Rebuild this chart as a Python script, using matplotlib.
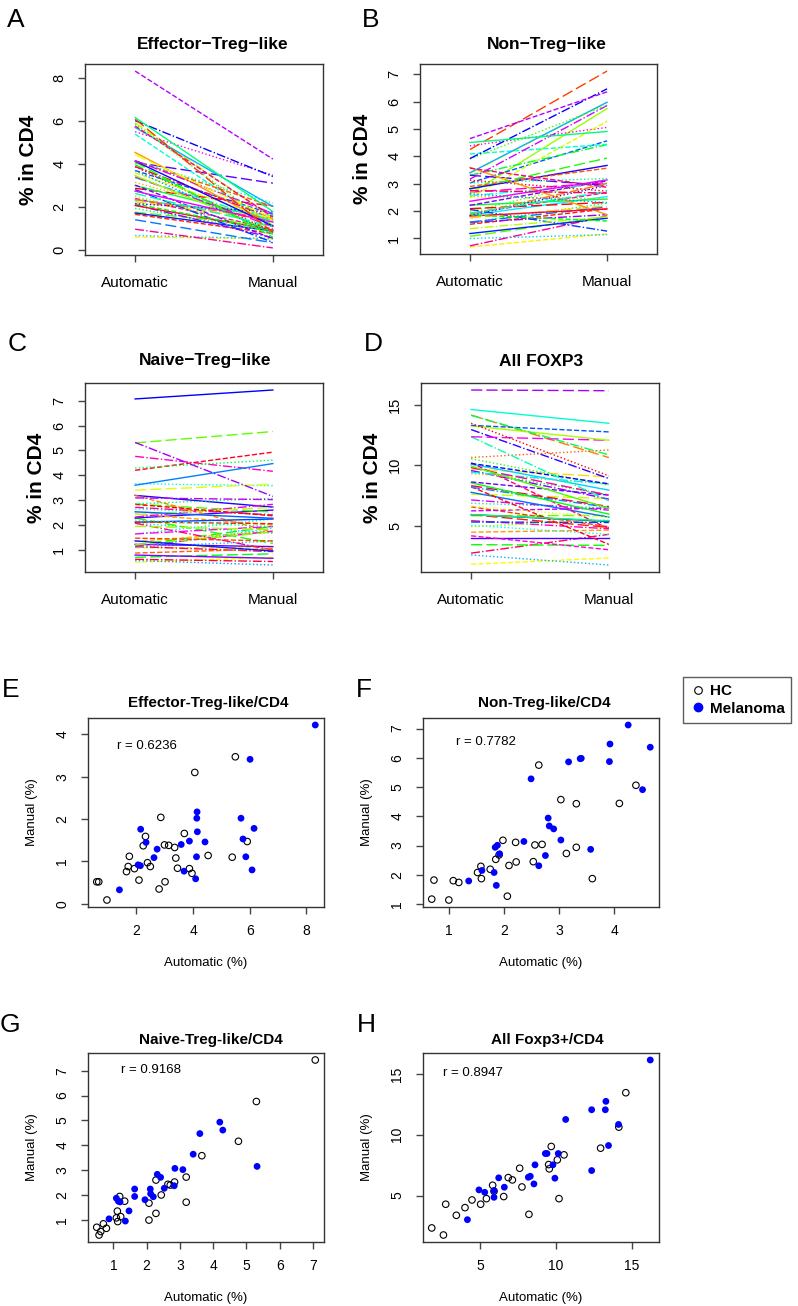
import matplotlib
matplotlib.use("Agg")
import matplotlib.pyplot as plt
import numpy as np
from matplotlib.colors import hsv_to_rgb
from matplotlib.lines import Line2D

plt.rcParams['font.family'] = ['Liberation Sans', 'DejaVu Sans']

# ---- data: % in CD4, automatic vs manual gating ----
# Effector-Treg-like
eff_hc_auto = [0.60, 0.67, 0.96, 1.75, 1.71, 1.65, 1.93, 2.09, 2.24, 2.32, 2.39, 2.49, 2.80, 2.86,
               2.99, 3.01, 3.14, 3.35, 3.39, 3.45, 3.69, 3.87, 3.96, 4.06, 4.53, 5.38, 5.49, 5.91]
eff_hc_man = [0.52, 0.52, 0.09, 1.12, 0.88, 0.76, 0.83, 0.56, 1.37, 1.59, 0.97, 0.88, 0.35, 2.04,
              1.39, 0.52, 1.38, 1.33, 1.08, 0.84, 1.66, 0.83, 0.72, 3.10, 1.14, 1.10, 3.47, 1.47]
eff_mel_auto = [1.40, 2.06, 2.14, 2.15, 2.34, 2.62, 2.73, 3.58, 3.68, 3.87, 4.09, 4.12, 4.13, 4.14,
                4.15, 4.42, 5.69, 5.76, 5.86, 6.01, 6.08, 6.15, 8.31]
eff_mel_man = [0.33, 0.92, 0.90, 1.76, 1.45, 1.09, 1.29, 1.40, 0.77, 1.48, 0.59, 1.11, 2.02, 2.17,
               1.70, 1.46, 2.02, 1.53, 1.11, 3.41, 0.80, 1.78, 4.22]

# Non-Treg-like
non_hc_auto = [0.69, 1.00, 0.73, 1.08, 1.18, 1.52, 1.58, 1.59, 1.75, 1.85, 1.91, 1.98, 2.06, 2.09,
               2.22, 2.21, 2.53, 2.56, 2.69, 2.63, 3.03, 3.13, 3.31, 3.31, 3.60, 4.09, 4.39]
non_hc_man = [1.17, 1.14, 1.82, 1.80, 1.74, 2.08, 2.29, 1.87, 2.19, 2.53, 2.68, 3.18, 1.27, 2.32,
              2.44, 3.11, 2.45, 3.02, 3.04, 5.75, 4.57, 2.73, 4.43, 2.94, 1.87, 4.44, 5.06]
non_mel_auto = [1.36, 1.60, 1.82, 1.86, 1.84, 1.88, 1.92, 2.36, 2.49, 2.63, 2.75, 2.80, 2.82, 2.90,
                3.03, 3.17, 3.38, 3.40, 3.57, 3.91, 3.92, 4.25, 4.51, 4.65]
non_mel_man = [1.79, 2.15, 2.08, 1.64, 2.94, 3.01, 2.72, 3.14, 5.28, 2.31, 2.66, 3.94, 3.67, 3.57,
               3.19, 5.86, 5.97, 5.98, 2.87, 5.87, 6.47, 7.12, 4.91, 6.36]

# Naive-Treg-like
nai_hc_auto = [0.50, 0.57, 0.62, 0.70, 0.79, 1.09, 1.12, 1.13, 1.19, 1.22, 1.34, 2.07, 2.07, 2.28,
               2.28, 2.44, 2.64, 2.71, 2.84, 3.19, 3.19, 3.66, 4.76, 5.30, 7.07]
nai_hc_man = [0.70, 0.39, 0.53, 0.84, 0.66, 1.08, 1.35, 0.93, 1.94, 1.13, 1.75, 1.67, 0.99, 1.26,
              2.60, 2.00, 2.43, 2.40, 2.52, 2.72, 1.71, 3.58, 4.16, 5.76, 7.43]
nai_mel_auto = [0.87, 1.09, 1.15, 1.20, 1.36, 1.47, 1.64, 1.64, 1.95, 2.11, 2.12, 2.20, 2.32, 2.42,
                2.53, 2.83, 2.85, 3.09, 3.40, 3.60, 4.20, 4.29, 5.32]
nai_mel_man = [1.04, 1.87, 1.75, 1.72, 0.95, 1.36, 2.24, 1.94, 1.81, 2.24, 2.05, 1.93, 2.83, 2.71,
               2.27, 2.37, 3.07, 3.02, 3.64, 4.47, 4.93, 4.61, 3.15]

# All FOXP3
all_hc_auto = [1.82, 2.59, 2.74, 3.44, 4.01, 4.47, 5.04, 5.42, 5.83, 5.92, 6.56, 6.86, 7.13, 7.61,
               7.76, 8.22, 9.52, 9.56, 9.69, 10.09, 10.20, 10.53, 12.94, 14.14, 14.60]
all_hc_man = [2.34, 1.76, 4.29, 3.38, 4.01, 4.64, 4.29, 4.75, 5.85, 5.36, 4.92, 6.48, 6.29, 7.25,
              5.71, 3.46, 7.55, 7.20, 9.04, 7.94, 4.75, 8.35, 8.90, 10.63, 13.46]
all_mel_auto = [4.17, 4.93, 5.31, 5.92, 5.92, 6.23, 6.60, 8.18, 8.31, 8.55, 8.62, 9.30, 9.41, 9.80,
                9.93, 10.15, 10.64, 12.35, 12.35, 13.25, 13.29, 13.46, 14.12, 16.21]
all_mel_man = [3.02, 5.47, 5.27, 4.86, 5.41, 6.46, 5.69, 6.51, 6.59, 5.96, 7.53, 8.46, 8.46, 7.53,
               6.43, 8.46, 11.26, 7.06, 12.06, 12.06, 12.75, 9.12, 10.85, 16.15]

line_titles = ["Effector\u2212Treg\u2212like", "Non\u2212Treg\u2212like", "Naive\u2212Treg\u2212like", "All FOXP3"]
scatter_titles = ["Effector-Treg-like/CD4", "Non-Treg-like/CD4", "Naive-Treg-like/CD4", "All Foxp3+/CD4"]
r_values = ["0.6236", "0.7782", "0.9168", "0.8947"]
yticks_list = [[0, 2, 4, 6, 8], [1, 2, 3, 4, 5, 6, 7], [1, 2, 3, 4, 5, 6, 7], [5, 10, 15]]
xticks_scatter = [[2, 4, 6, 8], [1, 2, 3, 4], [1, 2, 3, 4, 5, 6, 7], [5, 10, 15]]

sets = [(eff_hc_auto, eff_hc_man, eff_mel_auto, eff_mel_man),
        (non_hc_auto, non_hc_man, non_mel_auto, non_mel_man),
        (nai_hc_auto, nai_hc_man, nai_mel_auto, nai_mel_man),
        (all_hc_auto, all_hc_man, all_mel_auto, all_mel_man)]

W, H = 798, 1306
fig = plt.figure(figsize=(W / 100, H / 100), dpi=100)


def box(l, t, r, b):
    return [l / W, 1 - b / H, (r - l) / W, (b - t) / H]


def ftext(x, y, s, **kw):
    fig.text(x / W, 1 - y / H, s, ha='center', va='center', **kw)


def style_axes(ax, fs):
    for sp in ax.spines.values():
        sp.set_color('#333333')
        sp.set_linewidth(1.0)
    ax.tick_params(direction='out', length=5, width=1, color='#444444', labelsize=fs)
    ax.tick_params(axis='y', labelrotation=90, pad=8.5)
    for lbl in ax.get_yticklabels():
        lbl.set_va('center')


line_boxes = [(85, 64, 323, 255), (420, 64, 657, 254), (85, 383, 323, 572), (421, 383, 659, 572)]
line_title_pos = [(213, 44), (547, 44), (205, 361), (541, 362)]
line_ylab_x = [29, 362, 37, 373]
styles = ['-', '--', ':', '-.', (0, (8, 3))]

for k in range(4):
    hca, hcm, mea, mem = sets[k]
    auto = np.array(hca + mea)
    man = np.array(hcm + mem)
    n = len(auto)
    ax = fig.add_axes(box(*line_boxes[k]))
    for i in range(n):
        # rainbow palette, spread so neighbouring samples get different hues
        hue = ((i * 19 + 8) % n) / n
        col = hsv_to_rgb([hue, 1.0, 1.0])
        ax.plot([1, 2], [auto[i], man[i]], color=col, lw=1.0, ls=styles[(i + 1) % 5])
    ax.set_xlim(0.636, 2.364)
    lo = min(auto.min(), man.min())
    hi = max(auto.max(), man.max())
    pad = (hi - lo) * 0.04
    ax.set_ylim(lo - pad, hi + pad)
    ax.set_xticks([1, 2])
    ax.set_xticklabels(["Automatic", "Manual"])
    ax.set_yticks(yticks_list[k])
    style_axes(ax, 10.5)
    ax.tick_params(axis='x', pad=10, labelsize=11)
    l, t, r, b = line_boxes[k]
    ftext(*line_title_pos[k], line_titles[k], fontsize=12.5, fontweight='bold')
    ftext(line_ylab_x[k], (t + b) / 2, "% in CD4", fontsize=15, fontweight='bold', rotation=90)

scat_boxes = [(88, 718, 324, 907), (423, 718, 659, 907), (88, 1053, 324, 1242), (423, 1053, 659, 1242)]
scat_title_pos = [(208, 703), (544, 703), (211, 1040), (547, 1040)]
r_pos = [(0.25, 0.853), (0.268, 0.874), (0.268, 0.912), (0.21, 0.894)]

for k in range(4):
    hca, hcm, mea, mem = sets[k]
    ax = fig.add_axes(box(*scat_boxes[k]))
    ax.scatter(hca, hcm, s=22, facecolors='none', edgecolors='black', linewidths=0.8, zorder=3)
    ax.scatter(mea, mem, s=24, color='#0000FF', edgecolors='none', zorder=3)
    ax.margins(0.04)
    ax.set_xticks(xticks_scatter[k])
    ax.set_yticks(yticks_list[k] if k != 0 else [0, 1, 2, 3, 4])
    style_axes(ax, 10)
    ax.tick_params(axis='x', pad=7)
    ax.text(r_pos[k][0], r_pos[k][1], "r = " + r_values[k], transform=ax.transAxes,
            ha='center', va='center', fontsize=9.5)
    l, t, r, b = scat_boxes[k]
    ftext(*scat_title_pos[k], scatter_titles[k], fontsize=11, fontweight='bold')
    ftext((l + r) / 2, b + 56, "Automatic (%)", fontsize=9.5)
    ftext(l - 56, (t + b) / 2, "Manual (%)", fontsize=9.5, rotation=90)

# panel letters
letters = [("A", 7, 8), ("B", 362, 8), ("C", 8, 332), ("D", 364, 332),
           ("E", 2, 678), ("F", 356, 678), ("G", 0, 1013), ("H", 357, 1013)]
for s, x, y in letters:
    fig.text(x / W, 1 - y / H, s, ha='left', va='top', fontsize=19)

handles = [Line2D([], [], marker='o', ls='none', mfc='none', mec='black', ms=5.5, mew=0.8),
           Line2D([], [], marker='o', ls='none', mfc='#0000FF', mec='#0000FF', ms=6)]
leg = fig.legend(handles, ["HC", "Melanoma"], loc='upper left', bbox_to_anchor=(683 / W, 1 - 677 / H),
                 frameon=True, fancybox=False, edgecolor='#333333', prop={'weight': 'bold', 'size': 11},
                 handletextpad=0.3, handlelength=1.0, borderpad=0.45, labelspacing=0.25, borderaxespad=0)
leg.get_frame().set_linewidth(1.0)

fig.savefig("out.png", dpi=100)
